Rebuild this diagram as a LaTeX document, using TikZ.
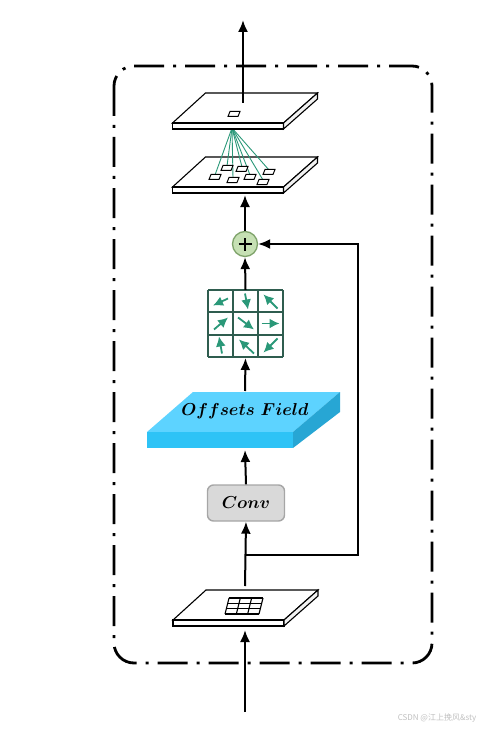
\documentclass[tikz,border=0pt]{standalone}
\usepackage{bm}
\usepackage{fontspec}
\newfontfamily\cjk{Noto Sans CJK SC}
\usetikzlibrary{arrows.meta}
\definecolor{sumgreen}{HTML}{C6E0B4}
\definecolor{sumline}{HTML}{7FA36B}
\definecolor{gridline}{HTML}{2F5D4F}
\definecolor{offarrow}{HTML}{2A9878}
\definecolor{slabtop}{HTML}{5DD3FF}
\definecolor{slabfront}{HTML}{2EC3F6}
\definecolor{slabside}{HTML}{27A6D4}
\tikzset{
  flow/.style={line width=2pt, -{Latex[length=12pt,width=10pt]}},
  plate/.pic={
    \draw[line width=1.1pt, fill=white] (-39,-15) -- (73,-15) -- (39,15) -- (-72,15) -- cycle;
    \draw[line width=1.1pt, fill=white] (-72,15) rectangle (39,21);
    \draw[line width=1.1pt, fill=gray!10] (39,15) -- (73,-15) -- (73,-9) -- (39,21) -- cycle;
  },
  cell/.pic={
    \draw[line width=1pt, fill=white] (-4,-2.5) -- (6,-2.5) -- (4,2.5) -- (-6,2.5) -- cycle;
  }
}
\begin{document}
\begin{tikzpicture}[x=1pt, y=-1pt]
  \useasboundingbox (0,0) rectangle (490,730);
  % dash-dot frame
  \draw[line width=2.8pt, rounded corners=20pt, dash pattern=on 30pt off 9pt on 3pt off 9pt]
    (114,66) rectangle (432,663);

  % top plates
  \pic at (244.5,172) {plate};
  \coordinate (apex) at (232,128);
  \foreach \cx/\cy [count=\k] in {215/177, 227/168, 242/169, 233/180, 250/177, 263/182, 269/172} {
    \coordinate (c\k) at (\cx,\cy);
    \draw[offarrow, line width=0.9pt] (apex) -- (\cx,\cy-2);
  }
  \foreach \k in {1,...,7} \pic at (c\k) {cell};
  \pic at (244.5,108) {plate};
  \pic at (234,114) {cell};
  \coordinate (outtop) at (243,103);
  \coordinate (out) at (243,20);
  \coordinate (lowbot) at (245,195);

  % sum
  \node[circle, draw=sumline, fill=sumgreen, line width=1.3pt, minimum size=25pt, inner sep=0pt]
    (sum) at (245,244) {};
  \draw[line width=2.2pt] ([xshift=-6.5pt]sum.center) -- ([xshift=6.5pt]sum.center)
    ([yshift=-6.5pt]sum.center) -- ([yshift=6.5pt]sum.center);

  % offset grid
  \node[minimum width=75pt, minimum height=67pt, inner sep=0pt] (grid) at (245.5,323.5) {};
  \foreach \i in {0,1,2,3} {
    \draw[gridline, line width=1.8pt] (208+\i*25,290) -- (208+\i*25,357);
    \draw[gridline, line width=1.8pt] (208,290+\i*22.33) -- (283,290+\i*22.33);
  }
  \foreach \cx/\cy/\ax/\ay/\bx/\by in {
      221/301.5/7/-3/-8/4, 246/301.5/-1/-8/2/8, 270.5/301.5/7/7/-7/-7,
      221/323.5/-7/6/7/-6, 246/323.5/-8/-6/8/6, 270.5/323.5/-9/0/9/0,
      221/345.5/1/8/-2/-9, 246/345.5/8/8/-7/-6, 270.5/345.5/7/-7/-7/7} {
    \draw[offarrow, line width=1.8pt, -{Latex[length=10pt,width=10pt]}]
      (\cx+\ax,\cy+\ay) -- (\cx+\bx,\cy+\by);
  }

  % offsets field slab
  \fill[slabtop] (193,392) -- (340,392) -- (293,432) -- (147,432) -- cycle;
  \fill[slabfront] (147,432) rectangle (293,448);
  \fill[slabside] (293,432) -- (340,392) -- (340,412) -- (293,448) -- cycle;
  \node (field) at (245,411) {\fontsize{19}{22}\selectfont$\bm{Offsets\ Field}$};
  \coordinate (fieldtop) at (245,391);
  \coordinate (fieldbot) at (245,450);

  % conv
  \node[draw=gray!70, fill=gray!30, line width=1.4pt, rounded corners=6pt,
        minimum width=77pt, minimum height=36pt] (conv) at (246,503)
        {\fontsize{17}{19}\selectfont$\bm{Conv}$};

  % bottom plate
  \pic at (245,605) {plate};
  \foreach \i in {0,1,2,3} {
    \draw[line width=1.1pt] (229+\i*11.33,598) -- (225+\i*11.33,614);
    \draw[line width=1.1pt] (229-\i*1.33,598+\i*5.33) -- (263-\i*1.33,598+\i*5.33);
  }
  \coordinate (inbot) at (245,712);
  \coordinate (intop) at (245,630);
  \coordinate (basetop) at (245,586);
  \coordinate (split) at (245,555);
  \coordinate (skip) at (358,555);

  % connectors
  \draw[flow] (inbot) -- (intop);
  \draw[flow] (basetop) -- (conv.south);
  \draw[flow] (split) -- (skip) |- (sum.east);
  \draw[flow] (conv.north) -- (fieldbot);
  \draw[flow] (fieldtop) -- (245.5,358);
  \draw[flow] (grid.north) -- (sum.south);
  \draw[flow] (sum.north) -- (lowbot);
  \draw[flow] (outtop) -- (out);

  \node[text=gray!50, font=\cjk\fontsize{8}{10}\selectfont] (mark) at (437,718) {CSDN @江上挽风\&sty};
\end{tikzpicture}
\end{document}
